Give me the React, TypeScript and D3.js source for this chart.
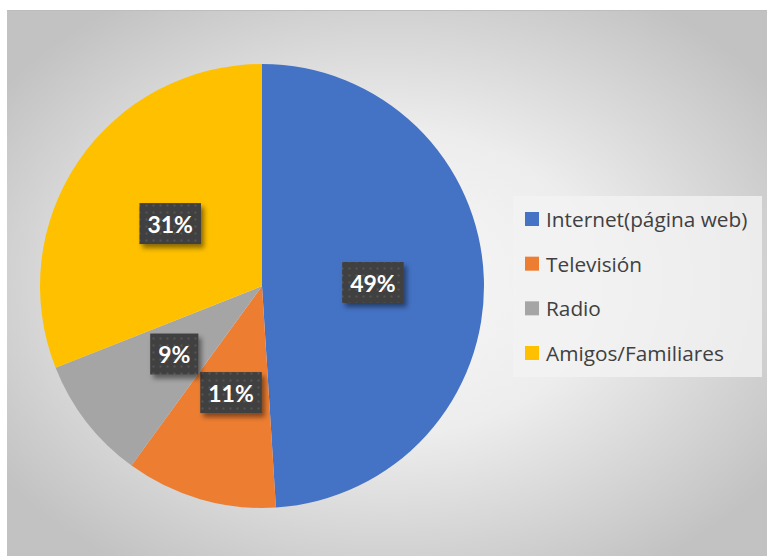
import React from "react";
import * as d3 from "d3";

const categories = ["Internet(página web)", "Televisión", "Radio", "Amigos/Familiares"];
const values = [49, 11, 9, 31];
const labels = ["49%", "11%", "9%", "31%"];
const colors = ["#4472C4", "#ED7D31", "#A5A5A5", "#FFC000"];

const W = 767;
const H = 556;

function measure(text: string, font: string): number {
  if (typeof document === "undefined") return text.length * 14;
  const c = document.createElement("canvas");
  const ctx = c.getContext("2d");
  if (!ctx) return text.length * 14;
  ctx.font = font;
  return ctx.measureText(text).width;
}

export default function App() {
  const cx = 262;
  const cy = 286;
  const R = 222;
  const pie = d3.pie<number>().sort(null).value((d) => d)(values);
  const arc = d3.arc<d3.PieArcDatum<number>>().innerRadius(0).outerRadius(R);
  const labelFont = "bold 23px Lato";
  const legendY = d3.scalePoint<string>().domain(categories).range([219, 353]);

  return (
    <svg width={W} height={H} style={{ position: "absolute", left: 0, top: 0 }} fontFamily="Lato, 'Open Sans', sans-serif">
      <defs>
        <radialGradient id="bg" cx="50%" cy="50%" r="62%">
          <stop offset="0%" stopColor="#f8f8f8" />
          <stop offset="45%" stopColor="#ededed" />
          <stop offset="100%" stopColor="#c2c2c2" />
        </radialGradient>
        <pattern id="dots" width="7" height="7" patternUnits="userSpaceOnUse">
          <rect width="7" height="7" fill="#3f3f3f" />
          <rect x="2.5" y="2.5" width="2" height="2" fill="#575757" />
        </pattern>
        <filter id="shadow" x="-30%" y="-30%" width="160%" height="170%">
          <feDropShadow dx="3" dy="4" stdDeviation="2.5" floodColor="#000" floodOpacity="0.45" />
        </filter>
      </defs>
      <rect x={0} y={0} width={W} height={H} fill="#ffffff" />
      <rect x={7} y={10} width={W - 7} height={H - 10} fill="url(#bg)" />
      <line x1={7} x2={W} y1={10.5} y2={10.5} stroke="#bdbdbd" strokeWidth={1} />
      <g transform={`translate(${cx},${cy})`}>
        {pie.map((p, i) => (
          <path key={i} d={arc(p) || ""} fill={colors[i]} />
        ))}
        {pie.map((p, i) => {
          const [x, y] = arc.centroid(p);
          const tw = measure(labels[i], labelFont);
          const bw = tw + 16;
          const bh = 41;
          return (
            <g key={"l" + i}>
              <rect x={x - bw / 2} y={y - bh / 2} width={bw} height={bh} fill="url(#dots)" filter="url(#shadow)" />
              <text x={x} y={y} textAnchor="middle" dominantBaseline="central" fill="#ffffff" fontWeight="bold" fontSize={23} fontFamily="Lato">
                {labels[i]}
              </text>
            </g>
          );
        })}
      </g>
      <rect x={513} y={196} width={249} height={181} fill="#f2f2f2" fillOpacity={0.8} />
      {categories.map((c, i) => {
        const y = legendY(c) || 0;
        return (
          <g key={"lg" + i}>
            <rect x={525} y={y - 7} width={14} height={14} fill={colors[i]} />
            <text x={546} y={y} dominantBaseline="central" fill="#404040" fontSize={20.8} fontFamily="'Open Sans', sans-serif">
              {c}
            </text>
          </g>
        );
      })}
    </svg>
  );
}
